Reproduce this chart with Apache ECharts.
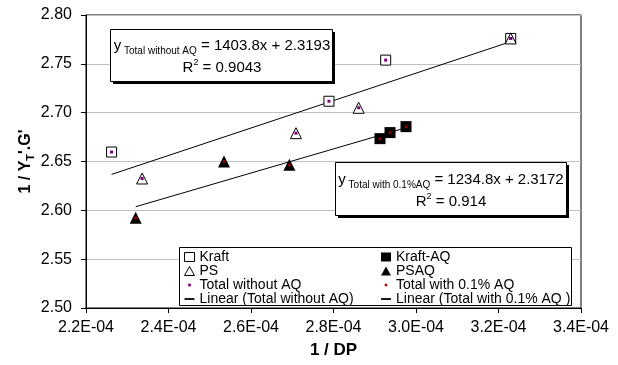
<!DOCTYPE html>
<html><head><meta charset="utf-8">
<script src="https://cdn.jsdelivr.net/npm/echarts@6/dist/echarts.min.js"></script>
<style>html,body{margin:0;padding:0;background:#fff}#c{width:618px;height:365px}</style>
</head><body><div id="c"></div>
<script>
// ---- data ----
const kraftX = [2.262e-4, 2.789e-4, 2.9265e-4, 3.2296e-4];
const kraftY = [2.6597, 2.7117, 2.7538, 2.776];
const psX = [2.336e-4, 2.709e-4, 2.861e-4, 3.2296e-4];
const psY = [2.6326, 2.679, 2.705, 2.776];
const kraftAQX = [2.9127e-4, 2.937e-4, 2.9758e-4];
const kraftAQY = [2.6734, 2.6796, 2.6857];
const psaqX = [2.3205e-4, 2.5345e-4, 2.693e-4];
const psaqY = [2.5923, 2.650, 2.6467];
const trendNoAQX = [2.262e-4, 3.2296e-4];
const trendNoAQY = [2.6368, 2.7727];
const trendAQX = [2.3205e-4, 2.9758e-4];
const trendAQY = [2.6037, 2.6846];
const xTickLabels = ['2.2E-04','2.4E-04','2.6E-04','2.8E-04','3.0E-04','3.2E-04','3.4E-04'];
const yTickLabels = ['2.50','2.55','2.60','2.65','2.70','2.75','2.80'];
const xMin = 2.2e-4, xMax = 3.4e-4, xStep = 2e-5;
const yMin = 2.5, yMax = 2.8, yStep = 0.05;

const pairs = (xs, ys) => xs.map((x, i) => [x, ys[i]]);
const FONT = 'Liberation Sans, Arial, sans-serif';

const chart = echarts.init(document.getElementById('c'), null, {renderer: 'canvas'});

const tinySq = 'path://M0,0M10,10M3.5,3.5h3v3h-3z';
const tinyDot = 'path://M0,0M10,10M3.6,3.6h2.8v2.8h-2.8z';
const dash = 'path://M0,0M10,10M0,4h11v2h-11z';

const legendBase = {
  orient: 'vertical', padding: 0, itemGap: 0, itemWidth: 10, itemHeight: 9,
  selectedMode: false, z: 10,
  textStyle: {fontFamily: FONT, fontSize: 14, color: '#000', lineHeight: 13.5}
};

function eqBox(x, y, w, h) {
  return [
    {type: 'rect', z: 5, shape: {x: x + 2.5, y: y + 2.5, width: w, height: h}, style: {fill: '#000'}},
    {type: 'rect', z: 5, shape: {x: x, y: y, width: w, height: h}, style: {fill: '#fff', stroke: '#000', lineWidth: 1}}
  ];
}
const mainRich = {fontFamily: FONT, fontSize: 15, lineHeight: 20, fill: '#000'};
const subRich = {fontFamily: FONT, fontSize: 10, lineHeight: 10, verticalAlign: 'bottom', fill: '#000'};
const supRich = {fontFamily: FONT, fontSize: 9, lineHeight: 10, verticalAlign: 'top', fill: '#000'};

chart.setOption({
  animation: false,
  backgroundColor: '#fff',
  grid: {left: 86, right: 37, top: 15, bottom: 57, show: true, borderColor: '#000', borderWidth: 1},
  xAxis: {
    type: 'value', min: xMin, max: xMax, interval: xStep,
    axisLine: {lineStyle: {color: '#000', width: 1}},
    axisTick: {show: true, length: 5, lineStyle: {color: '#000'}},
    splitLine: {show: false},
    axisLabel: {
      fontFamily: FONT, fontSize: 16, color: '#000', margin: 12,
      formatter: v => xTickLabels[Math.round((v - xMin) / xStep)]
    },
    name: '1 / DP', nameLocation: 'middle', nameGap: 34, nameMoveOverlap: false,
    nameTextStyle: {fontFamily: FONT, fontSize: 17, fontWeight: 'bold', color: '#000'}
  },
  yAxis: {
    type: 'value', min: yMin, max: yMax, interval: yStep,
    axisLine: {lineStyle: {color: '#000', width: 1}},
    axisTick: {show: true, length: 5, lineStyle: {color: '#000'}},
    splitLine: {show: true, lineStyle: {color: '#c0c0c0', width: 1}},
    axisLabel: {
      fontFamily: FONT, fontSize: 16, color: '#000', margin: 14,
      formatter: v => yTickLabels[Math.round((v - yMin) / yStep)]
    },
    name: "1 / Y{sub|T}'.G'", nameLocation: 'middle', nameGap: 50, nameRotate: 90, nameMoveOverlap: false,
    nameTextStyle: {
      fontFamily: FONT, fontSize: 16, fontWeight: 'bold', color: '#000', lineHeight: 20,
      rich: {sub: {fontFamily: FONT, fontSize: 11, fontWeight: 'bold', color: '#000', verticalAlign: 'bottom', lineHeight: 11}}
    }
  },
  legend: [
    Object.assign({}, legendBase, {
      left: 184, top: 250,
      data: [
        {name: 'Kraft', icon: 'rect', itemStyle: {color: '#fff', borderColor: '#000', borderWidth: 1}},
        {name: 'PS', icon: 'triangle', itemStyle: {color: '#fff', borderColor: '#000', borderWidth: 1}},
        {name: 'Total without AQ', icon: tinySq, itemStyle: {color: '#800080', borderWidth: 0}},
        {name: 'Linear (Total without AQ)', icon: dash, itemStyle: {color: '#000', borderWidth: 0}}
      ]
    }),
    Object.assign({}, legendBase, {
      left: 381, top: 250,
      data: [
        {name: 'Kraft-AQ', icon: 'rect', itemStyle: {color: '#000', borderWidth: 0}},
        {name: 'PSAQ', icon: 'triangle', itemStyle: {color: '#000', borderWidth: 0}},
        {name: 'Total with 0.1% AQ', icon: tinyDot, itemStyle: {color: '#990000', borderWidth: 0}},
        {name: 'Linear (Total with 0.1% AQ )', icon: dash, itemStyle: {color: '#000', borderWidth: 0}}
      ]
    })
  ],
  graphic: [
    {type: 'rect', z: 5, shape: {x: 179.5, y: 247.5, width: 392, height: 58},
     style: {fill: '#fff', stroke: '#000', lineWidth: 1}}
  ].concat(eqBox(110.5, 29.5, 222, 52), eqBox(335.5, 162.5, 231, 53), [
    {type: 'text', z: 6, x: 222, y: 46,
     style: {text: '{m|y}{s| Total without AQ}{m| = 1403.8x + 2.3193}', align: 'center', verticalAlign: 'middle',
       rich: {m: mainRich, s: subRich}}},
    {type: 'text', z: 6, x: 222, y: 68,
     style: {text: '{m|R}{p|2}{m| = 0.9043}', align: 'center', verticalAlign: 'middle',
       rich: {m: mainRich, p: supRich}}},
    {type: 'text', z: 6, x: 451, y: 180,
     style: {text: '{m|y}{s| Total with 0.1%AQ}{m| = 1234.8x + 2.3172}', align: 'center', verticalAlign: 'middle',
       rich: {m: mainRich, s: subRich}}},
    {type: 'text', z: 6, x: 451, y: 202,
     style: {text: '{m|R}{p|2}{m| = 0.914}', align: 'center', verticalAlign: 'middle',
       rich: {m: mainRich, p: supRich}}}
  ]),
  series: [
    {name: 'Linear (Total without AQ)', type: 'line', data: pairs(trendNoAQX, trendNoAQY), showSymbol: false, symbol: 'none',
     lineStyle: {color: '#000', width: 1}, itemStyle: {color: '#000'}, silent: true, z: 2},
    {name: 'Linear (Total with 0.1% AQ )', type: 'line', data: pairs(trendAQX, trendAQY), showSymbol: false, symbol: 'none',
     lineStyle: {color: '#000', width: 1}, itemStyle: {color: '#000'}, silent: true, z: 2},
    {name: 'Kraft', type: 'scatter', data: pairs(kraftX, kraftY), symbol: 'rect', symbolSize: 10,
     itemStyle: {color: '#fff', borderColor: '#000', borderWidth: 1, opacity: 1}, z: 3},
    {name: 'PS', type: 'scatter', data: pairs(psX, psY), symbol: 'triangle', symbolSize: 11,
     itemStyle: {color: '#fff', borderColor: '#000', borderWidth: 1, opacity: 1}, z: 3},
    {name: 'Kraft-AQ', type: 'scatter', data: pairs(kraftAQX, kraftAQY), symbol: 'rect', symbolSize: 11,
     itemStyle: {color: '#000', opacity: 1}, z: 3},
    {name: 'PSAQ', type: 'scatter', data: pairs(psaqX, psaqY), symbol: 'triangle', symbolSize: 12,
     itemStyle: {color: '#000', opacity: 1}, z: 3},
    {name: 'Total without AQ', type: 'scatter', data: pairs(kraftX.concat(psX), kraftY.concat(psY)), symbol: 'rect', symbolSize: 3,
     itemStyle: {color: '#800080', opacity: 1}, z: 4},
    {name: 'Total with 0.1% AQ', type: 'scatter', data: pairs(kraftAQX.concat(psaqX), kraftAQY.concat(psaqY)), symbol: 'circle', symbolSize: 3,
     itemStyle: {color: '#990000', opacity: 1}, z: 4}
  ]
});
</script>
</body></html>
